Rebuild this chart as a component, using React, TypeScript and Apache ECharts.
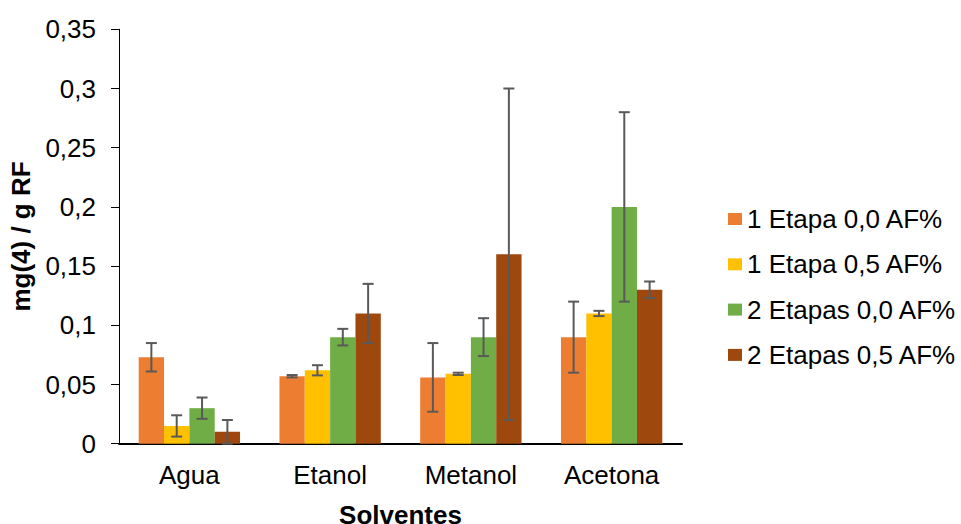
import React, { useEffect, useRef } from "react";
import * as echarts from "echarts";

const categories = ["Agua", "Etanol", "Metanol", "Acetona"];
const seriesNames = ["1 Etapa 0,0 AF%", "1 Etapa 0,5 AF%", "2 Etapas 0,0 AF%", "2 Etapas 0,5 AF%"];
const seriesColors = ["#ED7D31", "#FFC000", "#70AD47", "#9E480E"];
const values1E00 = [0.073, 0.057, 0.056, 0.09];
const values1E05 = [0.015, 0.062, 0.059, 0.11];
const values2E00 = [0.03, 0.09, 0.09, 0.2];
const values2E05 = [0.01, 0.11, 0.16, 0.13];
const errors1E00 = [0.012, 0.001, 0.029, 0.03];
const errors1E05 = [0.009, 0.0043, 0.001, 0.0022];
const errors2E00 = [0.009, 0.007, 0.016, 0.08];
const errors2E05 = [0.01, 0.025, 0.14, 0.007];

const allValues = [values1E00, values1E05, values2E00, values2E05];
const allErrors = [errors1E00, errors1E05, errors2E00, errors2E05];

const BAR_CATEGORY_GAP = 0.28;

export default function App() {
  const ref = useRef<HTMLDivElement>(null);
  useEffect(() => {
    document.body.style.margin = "0";
    if (!ref.current) return;
    const chart = echarts.init(ref.current, undefined, { renderer: "svg" });
    const nSeries = allValues.length;
    const barSeries = allValues.map((vals, i) => ({
      name: seriesNames[i],
      type: "bar",
      data: vals,
      itemStyle: { color: seriesColors[i] },
      barGap: "0%",
      barCategoryGap: BAR_CATEGORY_GAP * 100 + "%",
    }));
    const errData: number[][] = [];
    allValues.forEach((vals, si) => {
      vals.forEach((v, ci) => {
        errData.push([ci, v - allErrors[si][ci], v + allErrors[si][ci], si]);
      });
    });
    const errSeries = {
      type: "custom",
      name: "err",
      data: errData,
      z: 10,
      renderItem: (params: any, api: any) => {
        const ci = api.value(0);
        const lo = api.value(1);
        const hi = api.value(2);
        const si = api.value(3);
        const catW = api.size([1, 0])[0];
        const barW = (catW * (1 - BAR_CATEGORY_GAP)) / nSeries;
        const off = (si - (nSeries - 1) / 2) * barW;
        const pLo = api.coord([ci, lo]);
        const pHi = api.coord([ci, hi]);
        const x = pLo[0] + off;
        const cap = 5.5;
        const style = { stroke: "#595959", lineWidth: 2 };
        return {
          type: "group",
          children: [
            { type: "line", shape: { x1: x, y1: pLo[1], x2: x, y2: pHi[1] }, style },
            { type: "line", shape: { x1: x - cap, y1: pHi[1], x2: x + cap, y2: pHi[1] }, style },
            { type: "line", shape: { x1: x - cap, y1: pLo[1], x2: x + cap, y2: pLo[1] }, style },
          ],
        };
      },
    };
    const font = "'Liberation Sans', Arial, sans-serif";
    chart.setOption({
      animation: false,
      textStyle: { fontFamily: font },
      grid: { left: 119, right: 279, top: 29.3, bottom: 80.3, containLabel: false, outerBoundsMode: "none" },
      legend: {
        data: seriesNames,
        orient: "vertical",
        left: 723,
        top: 201,
        itemWidth: 14,
        itemHeight: 12,
        itemGap: 19.3,
        icon: "rect",
        textStyle: { fontSize: 26, color: "#000", fontFamily: font, lineHeight: 26 },
      },
      xAxis: {
        type: "category",
        data: categories,
        name: "Solventes",
        nameLocation: "middle",
        nameGap: 58,
        nameTextStyle: { fontSize: 26, fontWeight: "bold", color: "#000", fontFamily: font, lineHeight: 26 },
        axisLine: { lineStyle: { color: "#000", width: 2 } },
        axisTick: { show: false },
        axisLabel: { fontSize: 26, color: "#000", margin: 18, fontFamily: font, lineHeight: 26 },
      },
      yAxis: {
        type: "value",
        min: 0,
        max: 0.35,
        interval: 0.05,
        name: "mg(4) / g RF",
        nameLocation: "middle",
        nameGap: 83,
        nameTextStyle: { fontSize: 26, fontWeight: "bold", color: "#000", fontFamily: font, lineHeight: 26 },
        axisLine: { show: true, lineStyle: { color: "#000", width: 1 } },
        axisTick: { show: true, length: 8, lineStyle: { color: "#000" } },
        splitLine: { show: false },
        axisLabel: {
          fontSize: 26,
          color: "#000",
          margin: 23,
          fontFamily: font,
          formatter: (v: number) => String(Math.round(v * 100) / 100).replace(".", ","),
        },
      },
      series: [...barSeries, errSeries],
    });
    return () => chart.dispose();
  }, []);
  return <div ref={ref} style={{ width: 961, height: 524 }} />;
}
